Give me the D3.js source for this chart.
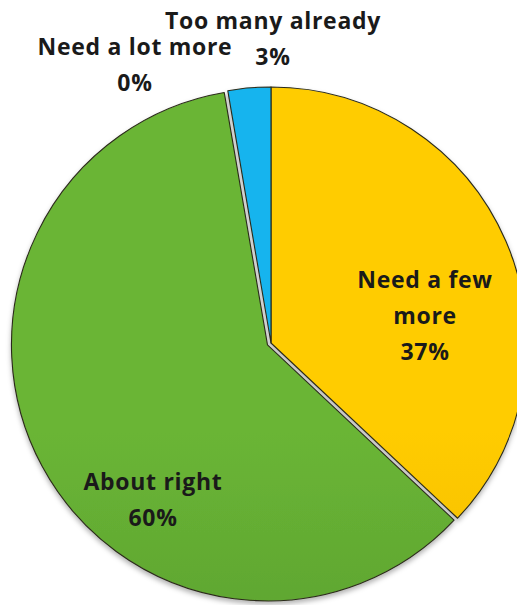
<!DOCTYPE html>
<html><head><meta charset="utf-8">
<script src="https://cdn.jsdelivr.net/npm/d3@7"></script>
<style>
html,body{margin:0;padding:0;background:#fff;overflow:hidden;}
svg{display:block;}
text{font-family:"Open Sans",Lato,sans-serif;font-weight:bold;fill:#1a1a1a;}
</style></head>
<body>
<script>
const categories = ["Need a few more", "About right", "Need a lot more", "Too many already"];
const values = [37.0, 60.3, 0.0, 2.7];
const labels = ["37%", "60%", "0%", "3%"];
const colorsTop = ["#FFCC00", "#6AB536", "#FFFFFF", "#12B4EE"];
const colorsBottom = ["#E3A300", "#4C8C27", "#FFFFFF", "#12A6E4"];

const W = 517, H = 605;
const cx = 271, cy = 343, R = 256;

const svg = d3.select("body").append("svg").attr("width", W).attr("height", H);
const defs = svg.append("defs");
const f = defs.append("filter").attr("id","sh").attr("x","-10%").attr("y","-10%").attr("width","120%").attr("height","125%");
f.append("feDropShadow").attr("dx",0).attr("dy",3).attr("stdDeviation",2.5).attr("flood-color","#000").attr("flood-opacity",0.3);

categories.forEach((c,i)=>{
  const g = defs.append("linearGradient").attr("id","g"+i)
    .attr("gradientUnits","userSpaceOnUse")
    .attr("x1",0).attr("y1",cy-R).attr("x2",0).attr("y2",cy+R);
  g.append("stop").attr("offset","0%").attr("stop-color",colorsTop[i]);
  g.append("stop").attr("offset","100%").attr("stop-color",colorsBottom[i]);
});

const pie = d3.pie().sort(null).value(d=>d.v);
const data = categories.map((c,i)=>({c, v: values[i], i}));
const arcs = pie(data);
const arc = d3.arc().innerRadius(0).outerRadius(R);
const explode = [0, 4, 0, 0];

const root = svg.append("g").attr("filter","url(#sh)");
root.selectAll("path").data(arcs).enter().filter(d=>d.data.v>0).append("path")
  .attr("transform", d=>{
    const a = (d.startAngle+d.endAngle)/2, e = explode[d.data.i];
    return `translate(${cx+Math.sin(a)*e},${cy-Math.cos(a)*e})`;
  })
  .attr("d", arc)
  .attr("fill", d=>`url(#g${d.data.i})`)
  .attr("stroke", "#2b2b1a").attr("stroke-width", 1.1).attr("stroke-linejoin","round");

const labelSpecs = [
  {lines:["Need a few","more",labels[0]], x:425, y:288},
  {lines:["About right",labels[1]], x:153, y:490},
  {lines:["Need a lot more",labels[2]], x:135, y:55},
  {lines:["Too many already",labels[3]], x:273, y:29}
];
const fs = 23, lh = 36;
labelSpecs.forEach(s=>{
  const t = svg.append("text").attr("text-anchor","middle").attr("font-size",fs).attr("letter-spacing","0.7px");
  s.lines.forEach((l,k)=>{
    t.append("tspan").attr("x",s.x).attr("y",s.y+k*lh).text(l);
  });
});
</script>
</body></html>
